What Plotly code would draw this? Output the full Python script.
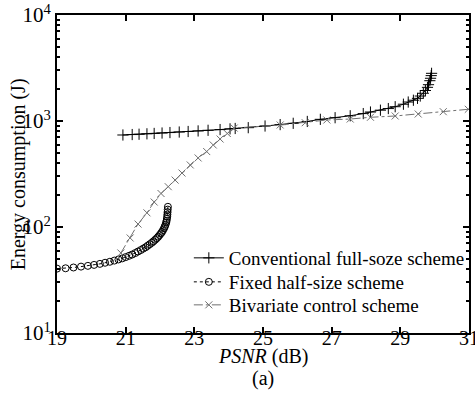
import plotly.graph_objects as go

# ---- data ----
conv_psnr = [20.92, 21.19, 21.39, 21.62, 21.83, 22.06, 22.29, 22.56, 22.82, 23.11,
             23.40, 23.75, 24.04, 24.19, 24.57, 25.06, 25.50, 25.88, 26.29, 26.67,
             27.10, 27.54, 27.92, 28.13, 28.42, 28.65, 28.85, 29.09, 29.23, 29.38,
             29.50, 29.58, 29.67, 29.73, 29.79, 29.82, 29.86, 29.88, 29.90, 29.91]
conv_energy = [738, 745, 750, 757, 763, 770, 778, 787, 796, 806,
               817, 830, 843, 850, 865, 897, 925, 951, 990, 1037,
               1074, 1120, 1175, 1215, 1265, 1310, 1364, 1440, 1510, 1570,
               1636, 1720, 1826, 1940, 2078, 2200, 2400, 2531, 2680, 2817]

half_psnr = [19.00, 19.25, 19.48, 19.70, 19.90, 20.08, 20.25, 20.40, 20.54, 20.67,
             20.79, 20.90, 21.00, 21.10, 21.19, 21.28, 21.36, 21.44, 21.51, 21.58,
             21.64, 21.70, 21.76, 21.81, 21.86, 21.91, 21.95, 21.99, 22.03, 22.06,
             22.09, 22.12, 22.14, 22.16, 22.18, 22.19, 22.20, 22.21, 22.215, 22.22,
             22.225, 22.23]
half_energy = [40.5, 40.8, 41.5, 42.3, 43.0, 43.9, 44.9, 46.0, 47.0, 48.2,
               49.4, 50.6, 52.0, 53.5, 55.0, 56.8, 58.7, 60.6, 62.5, 64.4,
               66.5, 68.7, 71.0, 73.3, 75.8, 78.5, 81.0, 84.0, 87.2, 90.0,
               93.5, 97.5, 101, 105, 110, 114, 119, 125, 131, 138,
               146, 155]

biv_psnr = [20.86, 21.13, 21.36, 21.62, 21.83, 22.03, 22.24, 22.44, 22.64, 22.88,
            23.11, 23.36, 23.55, 23.75, 23.96, 24.16, 25.50, 26.23, 26.86, 27.54,
            28.13, 28.85, 29.52, 30.25, 30.98]
biv_energy = [56.9, 78.8, 106.6, 136, 172, 207, 240, 277, 323, 385,
              448, 515, 594, 676, 762, 858, 917, 964, 1022, 1044,
              1084, 1115, 1164, 1224, 1290]

x_ticks = [19, 21, 23, 25, 27, 29, 31]
y_ticks = [10, 100, 1000, 10000]
y_tick_labels = ["10<sup>1</sup>", "10<sup>2</sup>", "10<sup>3</sup>", "10<sup>4</sup>"]
minor_vals = [m * d for d in (10, 100, 1000) for m in range(2, 10)]

FONT = "Liberation Serif"
GRAY = "#707070"

fig = go.Figure()
fig.add_trace(go.Scatter(
    x=conv_psnr, y=conv_energy, mode="lines+markers",
    name="Conventional full-soze scheme", legend="legend",
    line=dict(color="black", width=1),
    marker=dict(symbol="cross-thin-open", size=8, color="black",
                line=dict(color="black", width=1)),
))
fig.add_trace(go.Scatter(
    x=half_psnr, y=half_energy, mode="lines+markers",
    name="Fixed half-size scheme", legend="legend2",
    line=dict(color="black", width=1, dash="dot"),
    marker=dict(symbol="circle-open", size=7, color="black",
                line=dict(color="black", width=1)),
))
fig.add_trace(go.Scatter(
    x=biv_psnr, y=biv_energy, mode="lines+markers",
    name="Bivariate control scheme", legend="legend3",
    line=dict(color=GRAY, width=1, dash="dashdot"),
    marker=dict(symbol="x-thin-open", size=7, color=GRAY,
                line=dict(color=GRAY, width=1)),
))

def leg(ycenter_px):
    # convert pixel center to paper coords (plot spans y=15..333 px)
    yp = (333 - ycenter_px) / 318.0
    return dict(x=0.32, y=yp, xanchor="left", yanchor="middle",
                bgcolor="rgba(0,0,0,0)", font=dict(family=FONT, size=19),
                itemwidth=30, borderwidth=0)

fig.update_layout(
    width=475, height=396,
    margin=dict(l=57, r=6, t=15, b=63, autoexpand=False),
    paper_bgcolor="white", plot_bgcolor="white",
    font=dict(family=FONT, size=20, color="black"),
    showlegend=True,
    legend=leg(258),
    legend2=leg(282),
    legend3=leg(305),
)
fig.update_xaxes(
    range=[19, 31], tickvals=x_ticks, ticktext=[str(v) for v in x_ticks],
    ticks="inside", ticklen=6, tickwidth=2, tickcolor="black",
    showline=True, linecolor="black", linewidth=2, mirror="ticks",
    showgrid=False, zeroline=False, ticklabeloverflow="allow",
    automargin=False, ticklabelstandoff=-14,
    tickfont=dict(family=FONT, size=20),
)
fig.update_yaxes(
    type="log", range=[1, 4], tickvals=y_ticks, ticktext=y_tick_labels,
    ticks="inside", ticklen=6, tickwidth=2, tickcolor="black",
    showline=True, linecolor="black", linewidth=2, mirror="allticks",
    showgrid=False, zeroline=False, automargin=False,
    minor=dict(tickvals=minor_vals, ticks="inside", ticklen=3, tickwidth=1.5,
               tickcolor="black", showgrid=False),
    tickfont=dict(family=FONT, size=21),
)

fig.add_annotation(text="Energy consumption (J)", xref="paper", yref="paper",
                   x=-0.094, y=0.5, textangle=-90, showarrow=False,
                   xanchor="center", yanchor="middle",
                   font=dict(family=FONT, size=20))
fig.add_annotation(text="<i>PSNR</i> (dB)", xref="paper", yref="paper",
                   x=0.5, y=-0.074, showarrow=False, xanchor="center", yanchor="middle",
                   font=dict(family=FONT, size=20))
fig.add_annotation(text="(a)", xref="paper", yref="paper",
                   x=0.5, y=-0.143, showarrow=False, xanchor="center", yanchor="middle",
                   font=dict(family=FONT, size=20))

fig.write_html("out.html")
